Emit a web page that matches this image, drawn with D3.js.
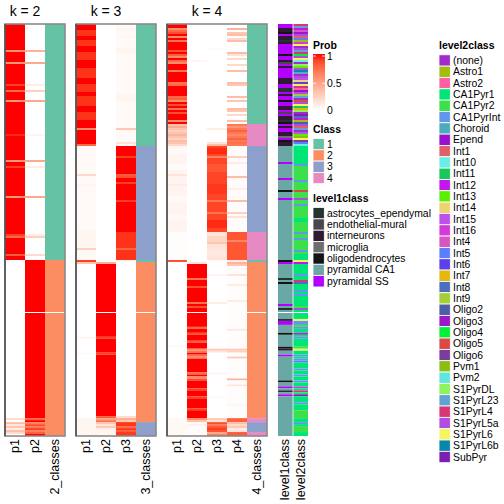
<!DOCTYPE html>
<html><head><meta charset="utf-8">
<script src="https://cdn.jsdelivr.net/npm/d3@7"></script>
<style>body{margin:0;background:#fff}svg{display:block}text{font-family:"Liberation Sans",Arial,Helvetica,sans-serif;fill:#000}</style>
</head><body><svg id="c" width="504" height="504"></svg>
<script>
// ---------- DATA ----------
// rows 0..143 = first slice, rows 144..205 = second slice
const N_TOP = 144, N_ALL = 206;
// segments [fromRow, toRow, value]; later segments override earlier ones
const k2_p1 = [[0,117,1],[13,13,0.6],[19,19,0.55],[30,30,0.9],[33,33,0.75],[38,38,0.55],[55,55,0.95],[68,68,0.55],[71,71,0.9],[86,86,0.55],[105,105,0.9],[106,106,0.75],[115,115,0.8],[118,205,0],[197,197,0.2],[199,199,0.35],[200,200,0.15],[201,201,0.3],[202,202,0.1],[203,203,0.35],[204,204,0.2]];
const k2_p2 = [[0,117,0],[13,13,0.4],[19,19,0.45],[30,30,0.1],[33,33,0.25],[38,38,0.45],[55,55,0.05],[68,68,0.45],[71,71,0.1],[86,86,0.45],[105,105,0.1],[106,106,0.25],[115,115,0.2],[118,205,1],[197,197,0.8],[199,199,0.65],[200,200,0.85],[201,201,0.7],[202,202,0.9],[203,203,0.65],[204,204,0.8]];
const k2_class = [[0,117,1],[118,205,2]];

const k3_p1 = [[0,60,1],[3,5,0.93],[8,10,0.93],[14,17,0.93],[22,26,0.93],[30,33,0.93],[36,40,0.93],[44,47,0.93],[52,52,0.6],[60,60,0.75],[61,117,0.03],[75,75,0.2],[80,80,0.06],[103,111,0.05],[112,112,0.25],[118,118,0.9],[119,205,0],[119,119,0.3],[156,156,0.06],[164,164,0.04],[197,205,0.05]];
const k3_p2 = [[0,118,0],[119,119,0.4],[120,198,1],[156,156,0.9],[164,164,0.9],[196,196,0.8],[197,197,0.5],[198,198,0.7],[199,199,0.3],[200,200,0.15],[201,201,0.3],[202,202,0.1],[203,205,0.05]];
const k3_p3 = [[0,60,0.03],[2,2,0.06],[6,6,0.05],[12,14,0.05],[20,22,0.04],[35,38,0.05],[45,47,0.04],[52,52,0.3],[59,59,0.15],[61,117,1],[66,66,0.9],[75,75,0.8],[76,76,0.85],[79,79,0.9],[88,88,0.9],[104,117,0.93],[112,112,0.75],[118,118,0.05],[119,205,0],[196,196,0.2],[197,197,0.45],[198,198,0.3],[199,205,0.92],[201,201,0.75],[203,203,0.8]];
const k3_class = [[0,60,1],[61,117,3],[118,118,1],[119,198,2],[199,205,3]];

const k4_p1 = [[0,49,1],[2,2,0.6],[3,3,0.75],[4,4,0.85],[6,6,0.6],[8,8,0.7],[13,13,0.85],[15,15,0.8],[16,16,0.6],[18,18,0.75],[19,19,0.6],[23,23,0.7],[29,29,0.7],[30,30,0.75],[36,36,0.75],[37,37,0.8],[38,38,0.6],[40,40,0.85],[42,42,0.7],[44,44,0.85],[48,48,0.6],[50,60,0.32],[51,51,0.45],[53,53,0.25],[55,55,0.4],[57,57,0.22],[58,58,0.35],[60,60,0.2],[61,103,0.06],[62,64,0.03],[70,72,0.03],[75,75,0.14],[80,80,0.1],[86,88,0.03],[95,97,0.04],[104,117,0.01],[118,118,0.85],[119,205,0],[160,160,0.03],[197,205,0.04]];
const k4_p2 = [[0,118,0],[18,18,0.05],[119,119,0.15],[120,196,1],[127,127,0.7],[131,131,0.85],[139,139,0.7],[141,141,0.85],[151,151,0.75],[154,154,0.85],[158,158,0.8],[162,162,0.6],[163,163,0.7],[165,165,0.75],[166,166,0.6],[174,174,0.75],[176,176,0.6],[177,177,0.85],[182,182,0.9],[186,186,0.9],[192,192,0.9],[197,197,0.6],[198,198,0.35],[199,205,0.02],[200,200,0.08]];
const k4_p3 = [[0,60,0],[12,12,0.03],[52,52,0.1],[59,59,0.15],[60,60,0.35],[61,103,0.88],[62,64,0.95],[66,66,0.65],[70,73,0.82],[80,84,0.92],[88,88,0.7],[94,94,0.7],[98,101,0.95],[104,117,0.15],[106,108,0.22],[109,109,0.3],[113,115,0.12],[118,118,0.02],[119,205,0],[125,125,0.05],[139,139,0.1],[162,162,0.3],[163,163,0.15],[174,174,0.06],[186,186,0.04],[197,197,0.3],[198,198,0.15],[199,203,0.85],[200,200,0.7],[202,202,0.92],[204,204,0.45],[205,205,0.65]];
const k4_p4 = [[0,49,0],[2,2,0.4],[4,4,0.3],[5,5,0.35],[7,7,0.2],[8,8,0.35],[14,14,0.35],[15,15,0.15],[17,17,0.2],[20,20,0.2],[23,23,0.35],[29,29,0.35],[30,30,0.3],[36,36,0.35],[38,38,0.3],[42,42,0.35],[43,43,0.3],[45,45,0.2],[48,48,0.35],[50,60,0.68],[51,51,0.55],[53,53,0.78],[55,55,0.6],[57,57,0.78],[59,59,0.72],[61,103,0.02],[66,66,0.25],[69,69,0.1],[76,76,0.35],[82,82,0.08],[88,88,0.35],[94,94,0.25],[96,96,0.15],[104,117,0.82],[108,108,0.62],[118,118,0.1],[119,205,0.01],[119,119,0.4],[120,120,0.3],[125,125,0.15],[130,130,0.1],[138,138,0.1],[152,152,0.12],[162,162,0.3],[163,163,0.25],[166,166,0.3],[177,177,0.4],[180,180,0.15],[190,190,0.05],[197,198,0.78],[199,199,0.35],[200,200,0.2],[201,201,0.3],[202,202,0.1],[203,203,0.15],[204,205,0.8]];
const k4_class = [[0,49,1],[50,60,4],[61,103,3],[104,117,4],[118,118,1],[119,196,2],[197,198,4],[199,203,3],[204,205,4]];

const classLabels = ["1","2","3","4"];
const classColors = ["#66C2A5","#FC8D62","#8DA0CB","#E78AC3"];

const level1Names = ["astrocytes_ependymal","endothelial-mural","interneurons","microglia","oligodendrocytes","pyramidal CA1","pyramidal SS"];
const level1Colors = ["#27332F","#4A4650","#2F1A33","#6E6E6E","#141414","#6AA8A5","#B400FF"];
const level1Seg = [[0,60,6],[2,3,2],[4,4,4],[6,9,2],[8,8,0],[15,15,4],[18,18,2],[19,19,1],[21,21,2],[27,29,2],[32,33,0],[35,35,2],[38,38,4],[41,42,2],[44,44,1],[46,47,2],[48,48,0],[49,49,4],[51,51,2],[54,55,2],[56,56,3],[58,58,4],[59,60,2],[61,205,5],[69,69,6],[77,77,6],[83,83,4],[87,87,6],[118,118,4],[119,119,6],[127,127,0],[129,129,4],[140,140,6],[142,142,0],[147,147,0],[148,149,6],[154,154,4],[161,161,4],[162,162,2],[165,165,6],[178,178,4],[181,181,6],[183,183,0],[185,185,6]];

const level2Names = ["(none)","Astro1","Astro2","CA1Pyr1","CA1Pyr2","CA1PyrInt","Choroid","Epend","Int1","Int10","Int11","Int12","Int13","Int14","Int15","Int16","Int4","Int5","Int6","Int7","Int8","Int9","Oligo2","Oligo3","Oligo4","Oligo5","Oligo6","Pvm1","Pvm2","S1PyrDL","S1PyrL23","S1PyrL4","S1PyrL5a","S1PyrL6","S1PyrL6b","SubPyr"];
const level2Colors = ["#9F2CCB","#A3BD0C","#FF5FA2","#00E676","#3BE04A","#6495ED","#4AACBC","#9A0ED0","#E0606A","#6BEDE6","#14C95C","#C316EA","#59F000","#EDD56E","#BD50EB","#D43AD8","#D655C0","#5B7EFF","#5A3FEA","#E5B70D","#4D6DBD","#A2CF35","#4E5EA6","#9B19C8","#01F038","#D94A42","#7B3CA0","#8CBE10","#5EE8DD","#8EF25D","#5FA3D3","#D63775","#B04CE0","#F5F55E","#0A87A8","#7E1CB3"];
// level2 of rows 0..60, one per row
const level2Top = [31,30,11,16,23,32,8,17,1,15,33,0,32,30,31,24,32,33,9,0,29,12,32,34,30,0,32,14,13,18,33,31,2,7,32,21,30,0,25,32,33,10,19,29,0,35,20,11,1,22,32,8,30,0,14,12,27,33,26,17,9];
// level2 of rows 61..205 as segments
const level2Seg = [[61,205,3],[71,114,4],[70,70,5],[78,78,5],[83,83,25],[87,87,32],[90,90,5],[97,98,3],[104,104,5],[107,107,5],[113,113,5],[118,118,33],[119,119,11],[125,125,5],[128,128,31],[129,129,20],[133,133,5],[135,135,5],[141,141,4],[142,142,32],[147,147,33],[148,149,5],[150,150,4],[151,151,5],[154,154,11],[156,156,5],[161,161,4],[162,162,33],[165,165,5],[167,167,5],[168,168,17],[172,172,5],[175,175,5],[178,178,5],[181,181,32],[183,183,31],[185,185,35],[189,189,5],[193,196,4],[199,199,5],[201,203,4]];

const probTicks = [0, 0.5, 1];

// ---------- DRAW ----------
const svg = d3.select("#c");
const yTop = d3.scaleLinear().domain([0, N_TOP]).range([24, 312]);
const yBot = d3.scaleLinear().domain([N_TOP, N_ALL]).range([313, 436]);
const yRow0 = r => r < N_TOP ? yTop(r) : yBot(r);
const yRow1 = r => r < N_TOP ? yTop(r + 1) : yBot(r + 1);
const probColor = d3.scaleLinear().domain([0, 1]).range(["#ffffff", "#ff0000"]).interpolate(d3.interpolateLab);
const classColor = d3.scaleOrdinal().domain([1,2,3,4]).range(classColors);
const l1Color = d3.scaleOrdinal().domain(d3.range(level1Names.length)).range(level1Colors);
const l2Color = d3.scaleOrdinal().domain(d3.range(level2Names.length)).range(level2Colors);

function expand(segs, init) {
  const a = init ? init.slice() : new Array(N_ALL).fill(0);
  segs.forEach(([r0, r1, v]) => { for (let r = r0; r <= r1; r++) a[r] = v; });
  return a;
}
function runs(vals) {
  const out = [];
  let s = 0;
  for (let r = 1; r <= vals.length; r++) {
    if (r === vals.length || vals[r] !== vals[s] || r === N_TOP) {
      out.push({r0: s, r1: r - 1, v: vals[s]});
      s = r;
    }
  }
  return out;
}
function drawColumn(g, x, w, vals, colorFn) {
  g.append("g").selectAll("rect").data(runs(vals)).join("rect")
    .attr("x", x).attr("width", w)
    .attr("y", d => yRow0(d.r0))
    .attr("height", d => yRow1(d.r1) - yRow0(d.r0))
    .attr("fill", d => colorFn(d.v));
}

const panels = [
  {k: 2, x0: 5, probs: [k2_p1, k2_p2], cls: k2_class},
  {k: 3, x0: 76, probs: [k3_p1, k3_p2, k3_p3], cls: k3_class},
  {k: 4, x0: 167, probs: [k4_p1, k4_p2, k4_p3, k4_p4], cls: k4_class}
];
const colW = 20;

panels.forEach(p => {
  const pn = p.probs.map((_, i) => "p" + (i + 1));
  const cols = [...pn, p.k + "_classes"];
  const x = d3.scaleBand().domain(cols).range([p.x0, p.x0 + colW * cols.length]);
  const g = svg.append("g");
  p.probs.forEach((segs, i) => drawColumn(g, x(pn[i]), x.bandwidth(), expand(segs), probColor));
  drawColumn(g, x(cols[cols.length - 1]), x.bandwidth(), expand(p.cls), classColor);
  // borders
  const x1 = p.x0 + colW * cols.length;
  g.append("rect").attr("x", p.x0).attr("y", 24).attr("width", x1 - p.x0).attr("height", 412)
    .attr("fill", "none").attr("stroke", "#8a8a8a").attr("stroke-width", 1.6);
  g.append("line").attr("x1", p.x0).attr("x2", p.x0).attr("y1", 24).attr("y2", 436)
    .attr("stroke", "#3a3a3a").attr("stroke-width", 1.2);
  // title
  g.append("text").attr("x", (x(pn[0]) + x(pn[pn.length - 1]) + x.bandwidth()) / 2).attr("y", 16)
    .attr("text-anchor", "middle").style("font-size", "14px").text("k = " + p.k);
  // column labels
  cols.forEach(c => {
    g.append("text").attr("transform", `translate(${x(c) + x.bandwidth() / 2},439) rotate(-90)`)
      .attr("text-anchor", "end").attr("dominant-baseline", "central")
      .style("font-size", "12.5px").text(c);
  });
});

// level annotations
const lx = d3.scaleBand().domain(["level1class", "level2class"]).range([278, 308]).paddingInner(0.05);
const ga = svg.append("g");
drawColumn(ga, lx("level1class"), lx.bandwidth(), expand(level1Seg), l1Color);
const l2vals = expand(level2Seg, level2Top.concat(new Array(N_ALL - level2Top.length).fill(3)));
drawColumn(ga, lx("level2class"), lx.bandwidth(), l2vals, l2Color);
["level1class", "level2class"].forEach(c => {
  ga.append("text").attr("transform", `translate(${lx(c) + lx.bandwidth() / 2},439) rotate(-90)`)
    .attr("text-anchor", "end").attr("dominant-baseline", "central")
    .style("font-size", "12.5px").text(c);
});

// ---------- LEGENDS ----------
const lg = svg.append("g");
const titleStyle = t => t.style("font-size", "10.5px").style("font-weight", "bold");
const labStyle = t => t.style("font-size", "10.4px");

// Prob colour bar
const defs = svg.append("defs");
const grad = defs.append("linearGradient").attr("id", "pg").attr("x1", 0).attr("y1", 1).attr("x2", 0).attr("y2", 0);
d3.range(0, 1.0001, 0.1).forEach(t => grad.append("stop").attr("offset", t).attr("stop-color", probColor(t)));
titleStyle(lg.append("text").attr("x", 313).attr("y", 48.5).text("Prob"));
const barY = d3.scaleLinear().domain([0, 1]).range([110.5, 56]);
lg.append("rect").attr("x", 313).attr("y", 54).attr("width", 12).attr("height", 56).attr("fill", "url(#pg)");
probTicks.forEach(t => {
  lg.append("line").attr("x1", 313).attr("x2", 316).attr("y1", barY(t)).attr("y2", barY(t)).attr("stroke", "#fff").attr("stroke-width", 0.8);
  lg.append("line").attr("x1", 322).attr("x2", 325).attr("y1", barY(t)).attr("y2", barY(t)).attr("stroke", "#fff").attr("stroke-width", 0.8);
  labStyle(lg.append("text").attr("x", 327).attr("y", barY(t)).attr("dominant-baseline", "central").text(t));
});

function discreteLegend(x, titleY, startY, step, names, colors, title) {
  titleStyle(lg.append("text").attr("x", x).attr("y", titleY).text(title));
  const yy = d3.scaleLinear().domain([0, 1]).range([startY, startY + step]);
  names.forEach((n, i) => {
    lg.append("rect").attr("x", x).attr("y", yy(i)).attr("width", 11.3).attr("height", step)
      .attr("fill", colors[i]).attr("stroke", "#fff").attr("stroke-width", 0.8);
    labStyle(lg.append("text").attr("x", x + 14).attr("y", yy(i) + step / 2).attr("dominant-baseline", "central").text(n));
  });
}
discreteLegend(313, 132.5, 138.5, 11.3, classLabels, classColors, "Class");
discreteLegend(313, 202, 207.5, 11.35, level1Names, level1Colors, "level1class");
discreteLegend(439, 48.5, 54.8, 11.33, level2Names, level2Colors, "level2class");
</script></body></html>
